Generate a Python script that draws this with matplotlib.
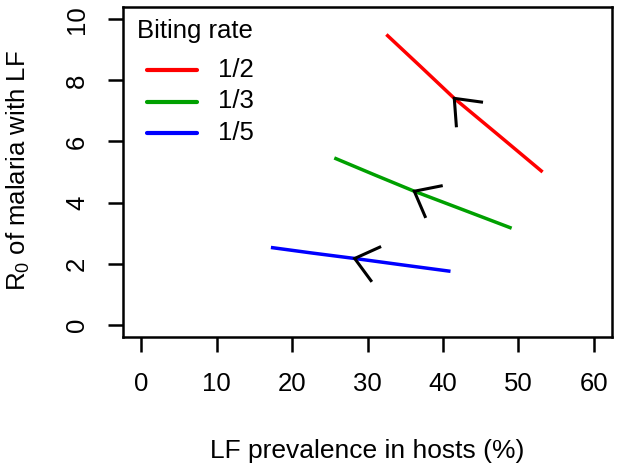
import numpy as np
import matplotlib
matplotlib.use("Agg")
import matplotlib.pyplot as plt

plt.rcParams['font.family'] = ['Liberation Sans', 'DejaVu Sans']
plt.rcParams['mathtext.fontset'] = 'custom'
plt.rcParams['mathtext.rm'] = 'Liberation Sans'
plt.rcParams['mathtext.it'] = 'Liberation Sans:italic'

# data
labels = ['1/2', '1/3', '1/5']
colors = ['#ff0000', '#00a000', '#0000ff']
red_x = [32.5, 37.0, 41.5, 47.2, 53.2]
red_y = [9.50, 8.46, 7.41, 6.24, 5.00]
green_x = [25.6, 30.9, 36.2, 42.5, 49.1]
green_y = [5.46, 4.91, 4.37, 3.78, 3.16]
blue_x = [17.2, 22.6, 28.3, 34.6, 41.0]
blue_y = [2.53, 2.35, 2.17, 1.96, 1.75]
arrow_idx = 2
xticks = [0, 10, 20, 30, 40, 50, 60]
yticks = [0, 2, 4, 6, 8, 10]

W, H = 618, 472
fig = plt.figure(figsize=(W / 100, H / 100), dpi=100)
L, R, T, B = 123, 612, 7, 337
ax = fig.add_axes([L / W, 1 - B / H, (R - L) / W, (B - T) / H])
ax.set_xlim(-2.4, 62.4)
ax.set_ylim(-0.4, 10.4)

series = [(red_x, red_y), (green_x, green_y), (blue_x, blue_y)]
for (xs, ys), c in zip(series, colors):
    ax.plot(xs, ys, color=c, lw=2.5, solid_capstyle='butt', zorder=2)

# arrow heads (open, pointing toward decreasing x)
fig.canvas.draw()
arm_len = 29
half = np.deg2rad(39)
rot = np.deg2rad(-7)
for xs, ys in series:
    p0 = ax.transData.transform((xs[arrow_idx], ys[arrow_idx]))
    p1 = ax.transData.transform((xs[arrow_idx + 1], ys[arrow_idx + 1]))
    d = p1 - p0
    ang = np.arctan2(d[1], d[0]) + rot
    pts = []
    for s in (-1, 1):
        a = ang + s * half
        pts.append(p0 + arm_len * np.array([np.cos(a), np.sin(a)]))
    verts = np.array([pts[0], p0, pts[1]])
    dv = ax.transData.inverted().transform(verts)
    ax.plot(dv[:, 0], dv[:, 1], color='black', lw=2.2, zorder=3,
            solid_joinstyle='miter', solid_capstyle='butt')

for sp in ax.spines.values():
    sp.set_linewidth(1.8)

fs = 18.5
ax.set_xticks(xticks)
ax.set_yticks(yticks)
ax.set_xticklabels([str(v) for v in xticks], fontsize=fs)
ax.set_yticklabels([str(v) for v in yticks], fontsize=fs, rotation=90, va='center')
ax.tick_params(axis='both', direction='out', length=11, width=1.8)
ax.tick_params(axis='x', pad=14)
ax.tick_params(axis='y', pad=13.5)

fig.text(367.5 / W, 1 - 451 / H, 'LF prevalence in hosts (%)', fontsize=19,
         ha='center', va='center')
fig.text(18 / W, 1 - 171 / H, r'R$_0$ of malaria with LF', fontsize=18.5,
         ha='center', va='center', rotation=90)

# legend (manual)
def px2ax(px, py):
    return ((px - L) / (R - L), (B - py) / (B - T))

tx, ty = px2ax(137, 31)
ax.text(tx, ty, 'Biting rate', transform=ax.transAxes, fontsize=fs,
        ha='left', va='center')
for i, (lab, c) in enumerate(zip(labels, colors)):
    yy = 70 + i * 31.5
    a0 = px2ax(147, yy)
    a1 = px2ax(197, yy)
    ax.plot([a0[0], a1[0]], [a0[1], a1[1]], transform=ax.transAxes,
            color=c, lw=3, solid_capstyle='round')
    lt = px2ax(218, yy)
    ax.text(lt[0], lt[1], lab, transform=ax.transAxes, fontsize=fs,
            ha='left', va='center')

fig.savefig('out.png', dpi=100)
